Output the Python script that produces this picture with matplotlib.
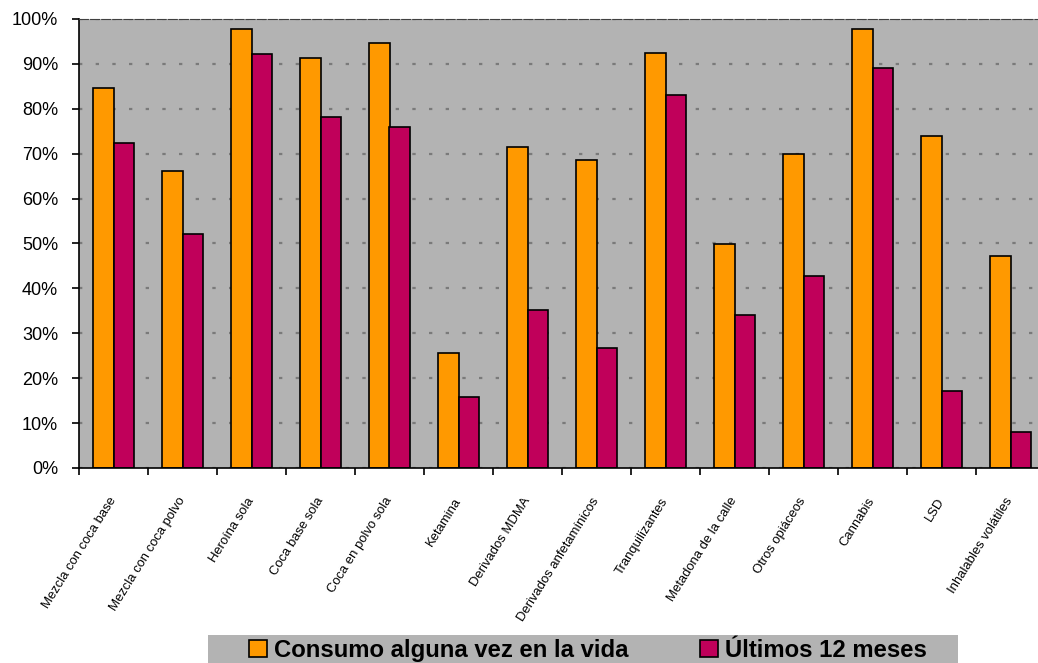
import numpy as np
import matplotlib.pyplot as plt
from matplotlib.patches import Rectangle

plt.rcParams['font.family'] = ['Liberation Sans', 'DejaVu Sans']

categorias = ['Mezcla con coca base', 'Mezcla con coca polvo', 'Heroína sola',
              'Coca base sola', 'Coca en polvo sola', 'Ketamina', 'Derivados MDMA',
              'Derivados anfetamínicos', 'Tranquilizantes', 'Metadona de la calle',
              'Otros opiáceos', 'Cannabis', 'LSD', 'Inhalables volátiles']
vida = [84.6, 66.1, 97.8, 91.3, 94.7, 25.6, 71.5, 68.6, 92.4, 49.9, 69.9, 97.8, 73.9, 47.2]
meses = [72.4, 52.1, 92.2, 78.2, 75.9, 15.8, 35.2, 26.7, 83.1, 34.1, 42.8, 89.1, 17.1, 8.0]
serie_nombres = ['Consumo alguna vez en la vida', 'Últimos 12 meses']

W, H = 1038, 663
fig = plt.figure(figsize=(W/100, H/100), dpi=100)
ax = fig.add_axes([79/W, 195/H, 966/W, 449/H])
ax.set_facecolor('#B3B3B3')

x = np.arange(len(categorias))
w = 0.29
b1 = ax.bar(x - w/2, vida, w, color='#FF9900', edgecolor='black', linewidth=1.2)
b2 = ax.bar(x + w/2, meses, w, color='#C0005A', edgecolor='black', linewidth=1.2)

ax.set_xlim(-0.5, len(categorias) - 0.5)
ax.set_ylim(0, 100)

## ejes y rejilla
ax.set_yticks(np.arange(0, 101, 10))
ax.set_yticklabels([f'{v}%' for v in range(0, 101, 10)], fontsize=13)
ax.tick_params(axis='y', length=5, width=1.2, pad=10, direction='out')

ax.set_xticks(x)
ax.set_xticklabels(categorias, rotation=58, ha='right', va='center',
                   rotation_mode='anchor', fontsize=9.4)
ax.tick_params(axis='x', which='major', length=0, pad=22)
ax.set_xticks(np.arange(-0.5, len(categorias), 1), minor=True)
ax.tick_params(axis='x', which='minor', length=5, width=1.2, direction='out')

ax.yaxis.grid(True, color='#7A7A7A', linestyle=(0, (1.5, 6)), linewidth=1.6)
ax.set_axisbelow(True)

ax.spines['right'].set_visible(False)
ax.spines['top'].set_color('#404040')
ax.spines['top'].set_linestyle((0, (8, 2)))
ax.spines['left'].set_linewidth(1.2)
ax.spines['bottom'].set_linewidth(1.2)

## leyenda
fig.patches.append(Rectangle((208/W, 0), 750/W, 28/H, transform=fig.transFigure,
                             facecolor='#B3B3B3', edgecolor='none'))
fig.legend([b1, b2], serie_nombres, loc='lower left', bbox_to_anchor=(249/W, 1/H),
           ncol=2, frameon=False, borderpad=0, borderaxespad=0,
           handlelength=0.75, handleheight=0.75, handletextpad=0.3, columnspacing=3.0,
           prop={'weight': 'bold', 'size': 17.2})

plt.savefig('out.png', dpi=100)
